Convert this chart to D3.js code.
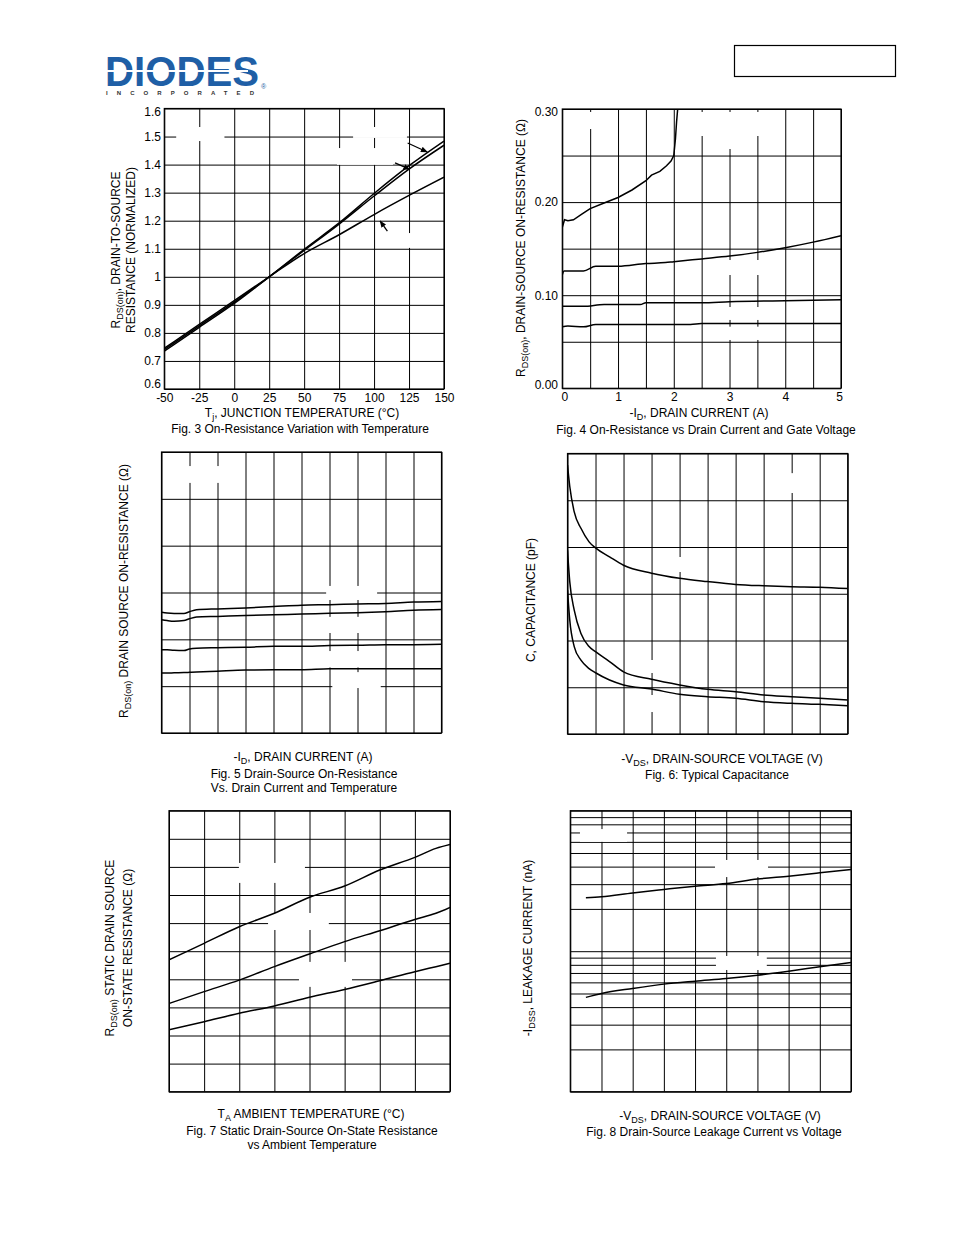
<!DOCTYPE html>
<html><head><meta charset="utf-8">
<script src="https://cdn.jsdelivr.net/npm/d3@7"></script>
<style>
body{margin:0;background:#fff}
text{font-family:"Liberation Sans",Arial,sans-serif;fill:#000}
</style>
</head><body>
<svg id="c" width="954" height="1235"></svg>
<script>
// ---------- Fig 3 : normalized R vs junction temperature ----------
const fig3Temp = [-50, -25, 0, 25, 50, 75, 100, 125, 150];
const fig3A = [0.74, 0.825, 0.91, 1.0, 1.098, 1.192, 1.297, 1.396, 1.484];
const fig3B = [0.735, 0.82, 0.905, 1.0, 1.094, 1.188, 1.288, 1.384, 1.469];
const fig3C = [0.745, 0.83, 0.915, 1.0, 1.083, 1.15, 1.222, 1.29, 1.355];
const fig3XTicks = [-50, -25, 0, 25, 50, 75, 100, 125, 150];
const fig3YTicks = [0.6, 0.7, 0.8, 0.9, 1.0, 1.1, 1.2, 1.3, 1.4, 1.5, 1.6];
const fig3Arrows = [[124, 1.477, 138, 1.445], [115, 1.406, 125.5, 1.383], [109.5, 1.163, 104.3, 1.199]];
const fig3Blank = [[-41.5, -7, 1.484, 1.534], [85, 123.5, 1.495, 1.534], [73.5, 113.5, 1.399, 1.459], [117, 135, 1.103, 1.156]];

// ---------- Fig 4 : R vs drain current ----------
const fig4Id1 = [0, 0.04, 0.1, 0.2, 0.35, 0.5, 0.75, 1.0, 1.25, 1.5, 1.6, 1.75, 1.87, 1.95, 2.0, 2.03, 2.05, 2.07];
const fig4R1 = [0.173, 0.181, 0.180, 0.181, 0.187, 0.193, 0.199, 0.205, 0.213, 0.223, 0.229, 0.233, 0.239, 0.244, 0.250, 0.268, 0.286, 0.300];
const fig4Id2 = [0, 0.03, 0.38, 0.6, 1.0, 1.5, 1.85, 2.0, 2.5, 3.0, 3.5, 4.0, 4.5, 5.0];
const fig4R2 = [0.122, 0.126, 0.126, 0.131, 0.131, 0.134, 0.135, 0.136, 0.139, 0.142, 0.146, 0.151, 0.157, 0.164];
const fig4Id3 = [0, 0.38, 0.75, 1.4, 1.5, 2.5, 3.0, 4.0, 5.0];
const fig4R3 = [0.088, 0.088, 0.090, 0.090, 0.092, 0.092, 0.093, 0.094, 0.095];
const fig4Id4 = [0, 0.1, 0.38, 0.6, 2.3, 2.5, 5.0];
const fig4R4 = [0.066, 0.067, 0.066, 0.0685, 0.0685, 0.0695, 0.0695];
const fig4XGrid = [0, 0.5, 1, 1.5, 2, 2.5, 3, 3.5, 4, 4.5, 5];
const fig4XLabels = [0, 1, 2, 3, 4, 5];
const fig4YGrid = [0, 0.05, 0.10, 0.15, 0.20, 0.25, 0.30];
const fig4YLabels = [0, 0.10, 0.20, 0.30];
const fig4Blank = [[0.26, 0.78, 0.2785, 0.2968], [2.41, 3.67, 0.271, 0.2968], [2.9, 3.3, 0.257, 0.272], [2.87, 3.66, 0.1217, 0.1378], [2.87, 3.66, 0.0734, 0.0873], [2.87, 3.66, 0.0519, 0.0662]];

// ---------- Fig 5 : R vs drain current and temperature ----------
const fig5Id = [0, 0.2, 0.45, 0.8, 1.0, 1.25, 2, 3, 4, 5, 6, 7, 8, 9, 10];
const fig5R1 = [2.58, 2.56, 2.55, 2.55, 2.59, 2.63, 2.65, 2.67, 2.70, 2.73, 2.74, 2.755, 2.765, 2.795, 2.81];
const fig5R2 = [2.42, 2.40, 2.385, 2.40, 2.44, 2.475, 2.49, 2.51, 2.525, 2.54, 2.555, 2.57, 2.59, 2.62, 2.635];
const fig5R3 = [1.78, 1.775, 1.765, 1.76, 1.795, 1.81, 1.82, 1.83, 1.85, 1.85, 1.87, 1.875, 1.885, 1.887, 1.893];
const fig5R4 = [1.28, 1.28, 1.285, 1.29, 1.295, 1.30, 1.32, 1.345, 1.35, 1.352, 1.372, 1.374, 1.374, 1.374, 1.374];
const fig5XGrid = [0, 1, 2, 3, 4, 5, 6, 7, 8, 9, 10];
const fig5YGrid = [0, 1, 2, 3, 4, 5, 6];
const fig5Blank = [[0.66, 2.45, 5.34, 5.70], [5.88, 7.7, 2.84, 3.14], [5.88, 7.7, 2.135, 2.48], [5.88, 7.4, 1.40, 1.75], [6.1, 7.83, 0.96, 1.30]];

// ---------- Fig 6 : typical capacitance ----------
const fig6V = [0, 0.08, 0.24, 0.48, 0.77, 1, 1.5, 2, 3, 4, 5, 6, 7, 8, 9, 10];
const fig6Ciss = [5.75, 5.3, 4.75, 4.40, 4.11, 3.98, 3.79, 3.61, 3.44, 3.33, 3.26, 3.20, 3.17, 3.15, 3.14, 3.11];
const fig6Coss = [3.93, 3.26, 2.65, 2.15, 1.87, 1.76, 1.55, 1.33, 1.17, 1.05, 0.955, 0.905, 0.834, 0.798, 0.763, 0.727];
const fig6Crss = [3.08, 2.44, 1.87, 1.58, 1.40, 1.31, 1.155, 1.05, 0.962, 0.848, 0.798, 0.763, 0.691, 0.656, 0.634, 0.606];
const fig6XGrid = [0, 1, 2, 3, 4, 5, 6, 7, 8, 9, 10];
const fig6YGrid = [0, 1, 2, 3, 4, 5, 6];
const fig6Blank = [[7.7, 8.3, 5.155, 5.58], [3.73, 4.26, 3.465, 3.786], [2.77, 3.3, 1.305, 1.583], [2.77, 3.3, 0.47, 0.834]];

// ---------- Fig 7 : R vs ambient temperature ----------
const fig7T = [0, 1, 2, 3, 4, 5, 6, 7, 7.6, 8];
const fig7R1 = [4.69, 5.28, 5.87, 6.35, 6.92, 7.32, 7.89, 8.34, 8.66, 8.80];
const fig7R2 = [3.14, 3.56, 3.97, 4.45, 4.90, 5.34, 5.73, 6.13, 6.35, 6.56];
const fig7R3 = [2.20, 2.49, 2.79, 3.05, 3.36, 3.64, 3.95, 4.27, 4.45, 4.57];
const fig7XGrid = [0, 1, 2, 3, 4, 5, 6, 7, 8];
const fig7YGrid = [0, 1, 2, 3, 4, 5, 6, 7, 8, 9, 10];
const fig7Blank = [[1.99, 3.87, 7.43, 8.14], [2.82, 4.55, 5.755, 6.36], [3.7, 5.21, 3.73, 4.62]];

// ---------- Fig 8 : leakage current vs voltage (log) ----------
const fig8V = [0.5, 1, 2, 3, 4, 5, 6, 7, 8, 9];
const fig8I1 = [24.0, 24.4, 26.0, 27.5, 29.0, 30.3, 32.6, 34.2, 36.1, 38.2];
const fig8I2 = [4.69, 5.0, 5.43, 5.83, 6.12, 6.39, 6.75, 7.21, 7.74, 8.3];
const fig8XGrid = [0, 1, 2, 3, 4, 5, 6, 7, 8, 9];
const fig8YDomain = [1, 100];
const fig8Blank = [[0.31, 1.82, 60, 74], [4.64, 6.34, 33.7, 44.6], [4.67, 6.3, 7.35, 9.25]];

// =================================================================
const FONT = "Liberation Sans, Arial, sans-serif";
const svg = d3.select("#c");
svg.append("defs").append("marker").attr("id", "ah").attr("viewBox", "0 0 10 10")
  .attr("refX", 9).attr("refY", 5).attr("markerWidth", 7).attr("markerHeight", 7)
  .attr("markerUnits", "userSpaceOnUse").attr("orient", "auto")
  .append("path").attr("d", "M0,1 L10,5 L0,9 Z").attr("fill", "#000");

// logo (one text element with three tspans)
const logo = svg.append("g");
const logoText = logo.append("text");
logoText.append("tspan").attr("x", 105).attr("y", 86).attr("font-size", 43).attr("font-weight", 900)
  .attr("textLength", 154).attr("lengthAdjust", "spacingAndGlyphs")
  .style("fill", "#1f5fa6").text("DIODES");
logoText.append("tspan").attr("x", 261).attr("y", 89).attr("font-size", 7).attr("font-weight", 400)
  .style("fill", "#1f5fa6").text("®");
logoText.append("tspan").attr("x", 106).attr("y", 95).attr("font-size", 6).attr("font-weight", 700)
  .attr("textLength", 148).attr("lengthAdjust", "spacing").style("fill", "#333").text("INCORPORATED");
logo.append("line").attr("x1", 106).attr("x2", 248).attr("y1", 71).attr("y2", 71).attr("stroke", "#fff").attr("stroke-width", 2);
svg.append("rect").attr("x", 734.5).attr("y", 45.5).attr("width", 161).attr("height", 31)
  .attr("fill", "none").attr("stroke", "#000").attr("stroke-width", 1.2);

function panel(box, xDom, yDom, xGrid, yGrid, log) {
  const x = d3.scaleLinear().domain(xDom).range([box.l, box.r]);
  const y = (log ? d3.scaleLog() : d3.scaleLinear()).domain(yDom).range([box.b, box.t]);
  const g = svg.append("g");
  const h = box.b - box.t, w = box.r - box.l;
  g.append("g").attr("transform", `translate(0,${box.b})`)
    .call(d3.axisBottom(x).tickValues(xGrid).tickSize(-h).tickFormat(""))
    .call(a => { a.select(".domain").remove(); a.selectAll("line").attr("stroke", "#000").attr("stroke-width", 1); });
  const ya = d3.axisLeft(y).tickSize(-w).tickFormat("");
  if (log) ya.tickValues(y.ticks()); else ya.tickValues(yGrid);
  g.append("g").attr("transform", `translate(${box.l},0)`).call(ya)
    .call(a => { a.select(".domain").remove(); a.selectAll("line").attr("stroke", "#000").attr("stroke-width", 1); });
  return { g, x, y, box };
}
function blanks(p, list) {
  p.g.selectAll(null).data(list).join("rect")
    .attr("x", d => p.x(d[0])).attr("width", d => p.x(d[1]) - p.x(d[0]))
    .attr("y", d => p.y(d[3])).attr("height", d => p.y(d[2]) - p.y(d[3]))
    .attr("fill", "#fff");
}
function border(p) {
  const b = p.box;
  p.g.append("rect").attr("x", b.l).attr("y", b.t).attr("width", b.r - b.l).attr("height", b.b - b.t)
    .attr("fill", "none").attr("stroke", "#000").attr("stroke-width", 1.2);
}
let clipN = 0;
function curve(p, xs, ys, smooth) {
  const line = d3.line().x(d => p.x(d[0])).y(d => p.y(d[1]))
    .curve(smooth ? d3.curveMonotoneX : d3.curveLinear);
  const clipId = "cl" + (clipN++);
  const b = p.box;
  p.g.append("clipPath").attr("id", clipId).append("rect").attr("x", b.l).attr("y", b.t - 1).attr("width", b.r - b.l).attr("height", b.b - b.t + 2);
  p.g.append("path").datum(xs.map((v, i) => [v, ys[i]])).attr("d", line)
    .attr("fill", "none").attr("stroke", "#000").attr("stroke-width", 1.5).attr("clip-path", `url(#${clipId})`);
}
function addParts(t, parts) {
  parts.forEach(p => {
    const s = t.append("tspan").text(p.t);
    if (p.sub) s.attr("font-size", 9).attr("dy", 3);
    if (p.back) s.attr("dy", -3);
  });
}
function rotLabel(x, y, parts) {
  const t = svg.append("text").attr("transform", `translate(${x},${y}) rotate(-90)`)
    .attr("text-anchor", "middle").attr("font-size", 12);
  addParts(t, parts);
}
function hLabel(x, y, parts, size) {
  const t = svg.append("text").attr("x", x).attr("y", y).attr("text-anchor", "middle").attr("font-size", size || 12);
  addParts(t, parts);
}
function styleTicks(a) {
  a.select(".domain").remove();
  a.selectAll("text").attr("font-size", 12).attr("font-family", FONT);
}

// ---- Fig 3
const p3 = panel({ l: 164.3, r: 444, t: 108.5, b: 389 }, [-50, 150], [0.6, 1.6], fig3XTicks, fig3YTicks);
blanks(p3, fig3Blank);
border(p3);
[fig3A, fig3B, fig3C].forEach(s => curve(p3, fig3Temp, s, true));
p3.g.selectAll(null).data(fig3Arrows).join("line")
  .attr("x1", d => p3.x(d[0])).attr("y1", d => p3.y(d[1])).attr("x2", d => p3.x(d[2])).attr("y2", d => p3.y(d[3]))
  .attr("stroke", "#000").attr("stroke-width", 1.3).attr("marker-end", "url(#ah)");
svg.append("g").attr("transform", "translate(161,0)")
  .call(d3.axisLeft(p3.y).tickValues(fig3YTicks).tickSize(0).tickPadding(0).tickFormat(d => d === 1 ? "1" : d3.format(".1f")(d)))
  .call(styleTicks)
  .call(a => a.selectAll("text").attr("dy", d => d === 0.6 ? "-0.1em" : (d === 1.6 ? "0.6em" : "0.32em")));
svg.append("g").attr("transform", "translate(0,393)")
  .call(d3.axisBottom(p3.x).tickValues(fig3XTicks).tickSize(0).tickPadding(0).tickFormat(d => String(d)))
  .call(styleTicks);
rotLabel(120, 250, [{ t: "R" }, { t: "DS(on)", sub: 1 }, { t: ", DRAIN-TO-SOURCE", back: 1 }]);
rotLabel(135, 250, [{ t: "RESISTANCE (NORMALIZED)" }]);
hLabel(302, 417, [{ t: "T" }, { t: "j", sub: 1 }, { t: ", JUNCTION TEMPERATURE (°C)", back: 1 }]);
hLabel(300, 433, [{ t: "Fig. 3 On-Resistance Variation with Temperature" }]);

// ---- Fig 4
const p4 = panel({ l: 562.3, r: 841, t: 109, b: 388.3 }, [0, 5], [0, 0.3], fig4XGrid, fig4YGrid);
blanks(p4, fig4Blank);
border(p4);
curve(p4, fig4Id1, fig4R1, false);
curve(p4, fig4Id2, fig4R2, true);
curve(p4, fig4Id3, fig4R3, true);
curve(p4, fig4Id4, fig4R4, true);
svg.append("g").attr("transform", "translate(558,0)")
  .call(d3.axisLeft(p4.y).tickValues(fig4YLabels).tickSize(0).tickPadding(0).tickFormat(d3.format(".2f")))
  .call(styleTicks)
  .call(a => a.selectAll("text").attr("dy", d => d === 0 ? "0.05em" : (d === 0.3 ? "0.5em" : "0.32em")));
svg.append("g").attr("transform", "translate(0,392)")
  .call(d3.axisBottom(p4.x).tickValues(fig4XLabels).tickSize(0).tickPadding(0).tickFormat(d3.format("d")))
  .call(styleTicks)
  .call(a => a.selectAll("text").attr("dx", d => d === 0 ? 2 : (d === 5 ? -2 : 0)));
rotLabel(525, 248, [{ t: "R" }, { t: "DS(on)", sub: 1 }, { t: ", DRAIN-SOURCE ON-RESISTANCE (Ω)", back: 1 }]);
hLabel(699, 417, [{ t: "-I" }, { t: "D", sub: 1 }, { t: ", DRAIN CURRENT (A)", back: 1 }]);
hLabel(706, 434, [{ t: "Fig. 4 On-Resistance vs Drain Current and Gate Voltage" }]);

// ---- Fig 5
const p5 = panel({ l: 161.5, r: 441.5, t: 452, b: 733 }, [0, 10], [0, 6], fig5XGrid, fig5YGrid);
blanks(p5, fig5Blank);
border(p5);
[fig5R1, fig5R2, fig5R3, fig5R4].forEach(s => curve(p5, fig5Id, s, true));
rotLabel(128, 591, [{ t: "R" }, { t: "DS(on)", sub: 1 }, { t: " DRAIN SOURCE ON-RESISTANCE (Ω)", back: 1 }]);
hLabel(303, 761, [{ t: "-I" }, { t: "D", sub: 1 }, { t: ", DRAIN CURRENT (A)", back: 1 }]);
hLabel(304, 778, [{ t: "Fig. 5 Drain-Source On-Resistance" }]);
hLabel(304, 792, [{ t: "Vs. Drain Current and Temperature" }]);

// ---- Fig 6
const p6 = panel({ l: 567.5, r: 847.7, t: 453.5, b: 734 }, [0, 10], [0, 6], fig6XGrid, fig6YGrid);
blanks(p6, fig6Blank);
border(p6);
[fig6Ciss, fig6Coss, fig6Crss].forEach(s => curve(p6, fig6V, s, true));
rotLabel(535, 600, [{ t: "C, CAPACITANCE (pF)" }]);
hLabel(722, 763, [{ t: "-V" }, { t: "DS", sub: 1 }, { t: ", DRAIN-SOURCE VOLTAGE (V)", back: 1 }]);
hLabel(717, 779, [{ t: "Fig. 6:  Typical Capacitance" }]);

// ---- Fig 7
const p7 = panel({ l: 169, r: 450, t: 810.7, b: 1091.7 }, [0, 8], [0, 10], fig7XGrid, fig7YGrid);
blanks(p7, fig7Blank);
border(p7);
[fig7R1, fig7R2, fig7R3].forEach(s => curve(p7, fig7T, s, true));
rotLabel(114, 948, [{ t: "R" }, { t: "DS(on)", sub: 1 }, { t: " STATIC DRAIN SOURCE", back: 1 }]);
rotLabel(132, 948, [{ t: "ON-STATE RESISTANCE (Ω)" }]);
hLabel(311, 1118, [{ t: "T" }, { t: "A", sub: 1 }, { t: " AMBIENT TEMPERATURE (°C)", back: 1 }]);
hLabel(312, 1135, [{ t: "Fig. 7 Static Drain-Source On-State Resistance" }]);
hLabel(312, 1149, [{ t: "vs Ambient Temperature" }]);

// ---- Fig 8
const p8 = panel({ l: 570.3, r: 851, t: 810.7, b: 1091.7 }, [0, 9], fig8YDomain, fig8XGrid, null, true);
blanks(p8, fig8Blank);
border(p8);
[fig8I1, fig8I2].forEach(s => curve(p8, fig8V, s, true));
rotLabel(532, 948, [{ t: "-I" }, { t: "DSS", sub: 1 }, { t: ", LEAKAGE CURRENT (nA)", back: 1 }]);
hLabel(720, 1120, [{ t: "-V" }, { t: "DS", sub: 1 }, { t: ", DRAIN-SOURCE VOLTAGE (V)", back: 1 }]);
hLabel(714, 1136, [{ t: "Fig. 8 Drain-Source Leakage Current vs Voltage" }]);
</script>
</body></html>
